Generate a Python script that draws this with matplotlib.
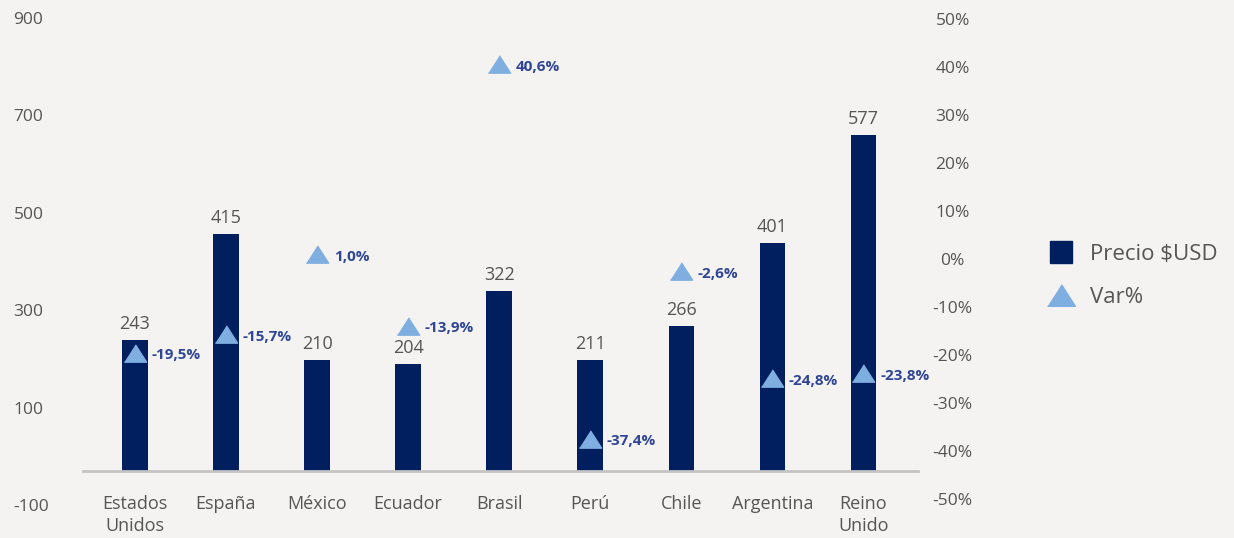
import matplotlib
matplotlib.use("Agg")
import matplotlib.pyplot as plt
from matplotlib.lines import Line2D

plt.rcParams["font.family"] = ["Open Sans", "DejaVu Sans"]
plt.rcParams["axes.unicode_minus"] = False

# Data
countries = ["Estados\nUnidos", "España", "México", "Ecuador", "Brasil",
             "Perú", "Chile", "Argentina", "Reino\nUnido"]
price_usd = [243, 415, 210, 204, 322, 211, 266, 401, 577]
var_pct = [-0.195, -0.157, 0.010, -0.139, 0.406, -0.374, -0.026, -0.248, -0.238]
left_ticks = [-100, 100, 300, 500, 700, 900]
right_ticks = [-0.5, -0.4, -0.3, -0.2, -0.1, 0.0, 0.1, 0.2, 0.3, 0.4, 0.5]

bg = "#F4F3F1"
navy = "#011E5F"
tri_blue = "#7FAEE1"
lab_blue = "#2F4696"
grey_txt = "#555555"

# flatter triangle, like the reference markers
tri = [(-1, -0.78), (1, -0.78), (0, 0.78)]

W, H = 1234, 538
fig = plt.figure(figsize=(W / 100, H / 100), dpi=100)
fig.patch.set_facecolor(bg)

x0, x1 = 83 / W, 918 / W
y_top = (H - 18) / H
y_axis = (H - 471) / H
y_bot = (H - 505) / H
xlim = (-0.57, 8.6)
xs = list(range(len(countries)))

# axis holding the right % scale
ax_var = fig.add_axes([x0, y_bot, x1 - x0, y_top - y_bot])
ax_left = ax_var.twinx()

ax_var.set_xlim(*xlim)
ax_var.set_ylim(-0.5125, 0.502)
ax_var.patch.set_alpha(0)
for s in ax_var.spines.values():
    s.set_visible(False)
ax_var.set_xticks([])
ax_var.yaxis.tick_right()
ax_var.set_yticks(right_ticks)
ax_var.set_yticklabels([f"{int(round(t * 100))}%" for t in right_ticks])
ax_var.tick_params(axis="y", length=0, pad=25, labelsize=12.5, labelcolor=grey_txt)
for t in ax_var.get_yticklabels():
    t.set_horizontalalignment("center")

# left value labels
ax_left.set_ylim(-100, 900)
ax_left.yaxis.tick_left()
ax_left.set_yticks(left_ticks)
ax_left.tick_params(axis="y", length=0, pad=50, labelsize=12.5, labelcolor=grey_txt)
for t in ax_left.get_yticklabels():
    t.set_horizontalalignment("left")
for s in ax_left.spines.values():
    s.set_visible(False)

# bars; the grey axis line sits a little above zero, as in the reference
ax_bar = fig.add_axes([x0, y_axis, x1 - x0, y_top - y_axis])
ax_bar.set_xlim(*xlim)
ax_bar.set_ylim(30, 30 + 453 / 0.615)
ax_bar.patch.set_alpha(0)
bars = ax_bar.bar(xs, price_usd, width=0.28, color=navy, zorder=2)
for b, v in zip(bars, price_usd):
    ax_bar.annotate(f"{v}", (b.get_x() + b.get_width() / 2, v),
                    xytext=(0, 5), textcoords="offset points",
                    ha="center", va="bottom", fontsize=13, color=grey_txt)
for k in ["top", "left", "right"]:
    ax_bar.spines[k].set_visible(False)
ax_bar.spines["bottom"].set_color("#C4C4C4")
ax_bar.spines["bottom"].set_linewidth(2)
ax_bar.spines["bottom"].set_zorder(3)
ax_bar.set_yticks([])
ax_bar.set_xticks(xs)
ax_bar.set_xticklabels(countries, fontsize=13, color=grey_txt, linespacing=1.3)
ax_bar.tick_params(axis="x", length=0, pad=17)

# triangles on top of the bars
ax_tri = fig.add_axes(ax_var.get_position())
ax_tri.set_xlim(*xlim)
ax_tri.set_ylim(ax_var.get_ylim())
ax_tri.axis("off")
ax_tri.plot(xs, var_pct, linestyle="none", marker=tri, markersize=16,
            color=tri_blue, zorder=3)
for x, v in zip(xs, var_pct):
    txt = f"{v * 100:.1f}%".replace(".", ",")
    ax_tri.annotate(txt, (x, v), xytext=(12, -2), textcoords="offset points",
                    ha="left", va="center", fontsize=11, fontweight="bold",
                    color=lab_blue)

handles = [
    Line2D([], [], linestyle="none", marker="s", markersize=16, color=navy),
    Line2D([], [], linestyle="none", marker=tri, markersize=20, color=tri_blue),
]
fig.legend(handles, ["Precio $USD", "Var%"], loc="center left",
           bbox_to_anchor=(1028 / W, (H - 276) / H), frameon=False,
           fontsize=16, labelcolor=grey_txt, labelspacing=1.0,
           handletextpad=0.7, handlelength=1.2)

fig.savefig("out.png", dpi=100, facecolor=bg)
